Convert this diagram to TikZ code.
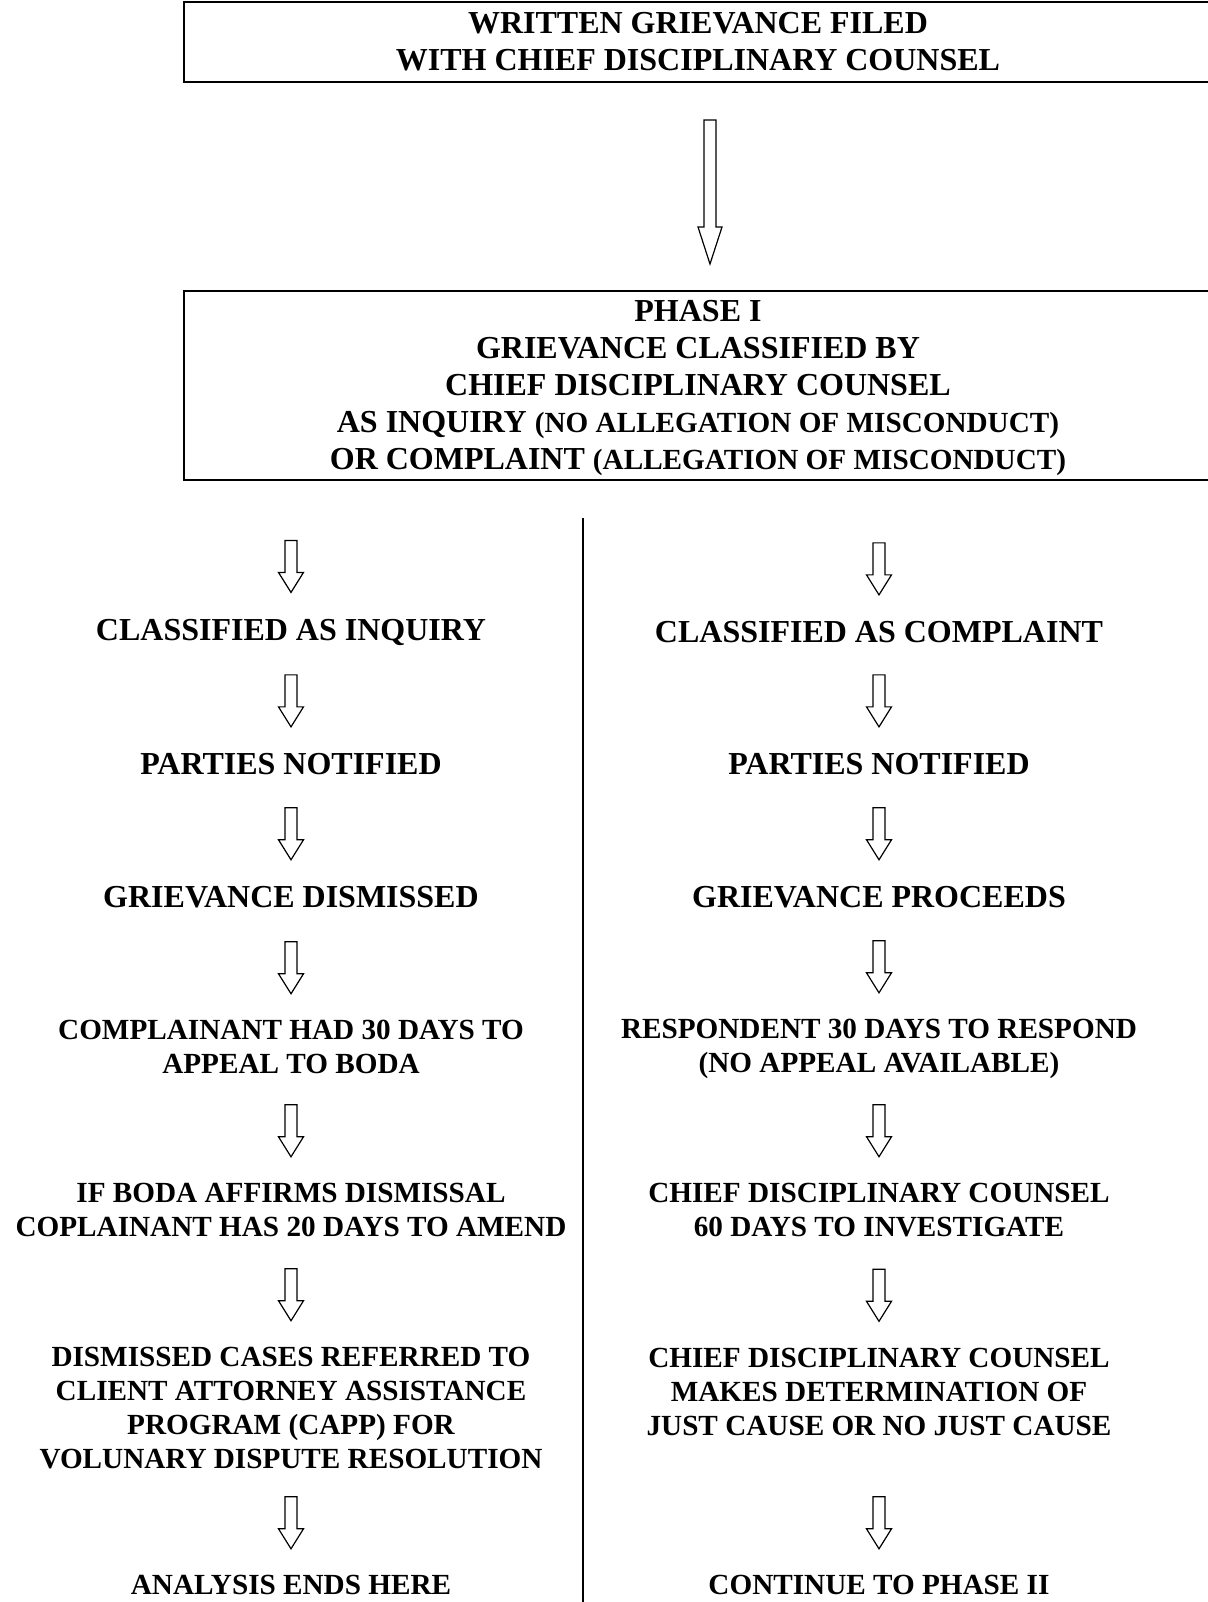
\documentclass[tikz,border=0pt]{standalone}
\usepackage{fontspec}
\setmainfont{Liberation Serif}
\usetikzlibrary{calc,positioning}

\newcommand\parnote[1]{{\fontsize{14.6}{18.5}\selectfont #1}}

\begin{document}
\begin{tikzpicture}[
  x=0.5pt, y=-0.5pt,
  box/.style={draw, line width=1pt, align=center, inner sep=0pt,
              minimum width=514pt,
              font=\fontsize{16}{18.5}\selectfont\bfseries},
  stage/.style={align=center, inner sep=0pt,
                font=\fontsize{14.6}{17}\selectfont\bfseries},
  stagebig/.style={stage, font=\fontsize{16}{18.5}\selectfont\bfseries},
  fatarr/.style n args={4}{line width=0.6pt, to path={
      let \p2=(\tikztotarget) in
      (\x2-#1,\y2+13pt+#4) -- (\x2+#1,\y2+13pt+#4) -- (\x2+#1,\y2+13pt+#3)
      -- (\x2+#2,\y2+13pt+#3) -- (\x2,\y2+13pt) -- (\x2-#2,\y2+13pt+#3)
      -- (\x2-#1,\y2+13pt+#3) -- cycle}},
  arr/.style={fatarr={3pt}{6.25pt}{10pt}{26pt}},
  bigarr/.style={fatarr={3pt}{6pt}{18.5pt}{72pt}},
]
  \useasboundingbox (0,0) rectangle (1208,1602);

  \node[box, minimum height=40pt] (filed) at (698,42)
    {WRITTEN GRIEVANCE FILED\\WITH CHIEF DISCIPLINARY COUNSEL};
  \node[box, minimum height=94.5pt] (phase) at (698,385.5)
    {PHASE I\\GRIEVANCE CLASSIFIED BY\\CHIEF DISCIPLINARY COUNSEL\\
     AS INQUIRY \parnote{(NO ALLEGATION OF MISCONDUCT)}\\
     OR COMPLAINT \parnote{\smash{(ALLEGATION OF MISCONDUCT)}}};
  \draw[bigarr] (filed) to ([xshift=6pt]phase.north);

  % divider between the two tracks
  \coordinate (divtop) at (583,518);
  \coordinate (divbot) at (583,1602);
  \draw[line width=1.1pt] (divtop) -- (divbot);

  % inquiry track
  \node[stagebig] (inqA) at (291,632) {CLASSIFIED AS INQUIRY};
  \node[stagebig] (inqB) at (291,764) {PARTIES NOTIFIED};
  \node[stagebig] (inqC) at (291,897) {GRIEVANCE DISMISSED};
  \node[stage] (inqD) at (291,1047) {COMPLAINANT HAD 30 DAYS TO\\APPEAL TO BODA};
  \node[stage] (inqE) at (291,1210) {IF BODA AFFIRMS DISMISSAL\\COPLAINANT HAS 20 DAYS TO AMEND};
  \node[stage] (inqF) at (291,1408) {DISMISSED CASES REFERRED TO\\CLIENT ATTORNEY ASSISTANCE\\PROGRAM (CAPP) FOR\\VOLUNARY DISPUTE RESOLUTION};
  \node[stage] (inqG) at (291,1585) {ANALYSIS ENDS HERE};

  % complaint track
  \node[stagebig] (cmpA) at (879,632) {CLASSIFIED AS COMPLAINT};
  \node[stagebig] (cmpB) at (879,764) {PARTIES NOTIFIED};
  \node[stagebig] (cmpC) at (879,897) {GRIEVANCE PROCEEDS};
  \node[stage] (cmpD) at (879,1049) {RESPONDENT 30 DAYS TO RESPOND\\(NO APPEAL AVAILABLE)};
  \node[stage] (cmpE) at (879,1210) {CHIEF DISCIPLINARY COUNSEL\\60 DAYS TO INVESTIGATE};
  \node[stage] (cmpF) at (879,1391.5) {CHIEF DISCIPLINARY COUNSEL\\MAKES DETERMINATION OF\\JUST CAUSE OR NO JUST CAUSE};
  \node[stage] (cmpG) at (879,1585) {CONTINUE TO PHASE II};

  \draw[arr] (phase) to (inqA.north);
  \draw[arr] (inqA) to (inqB.north);
  \draw[arr] (inqB) to (inqC.north);
  \draw[arr] (inqC) to (inqD.north);
  \draw[arr] (inqD) to (inqE.north);
  \draw[arr] (inqE) to (inqF.north);
  \draw[arr] (inqF) to (inqG.north);

  \draw[arr] (phase) to (cmpA.north);
  \draw[arr] (cmpA) to (cmpB.north);
  \draw[arr] (cmpB) to (cmpC.north);
  \draw[arr] (cmpC) to (cmpD.north);
  \draw[arr] (cmpD) to (cmpE.north);
  \draw[arr] (cmpE) to (cmpF.north);
  \draw[arr] (cmpF) to (cmpG.north);
\end{tikzpicture}
\end{document}
